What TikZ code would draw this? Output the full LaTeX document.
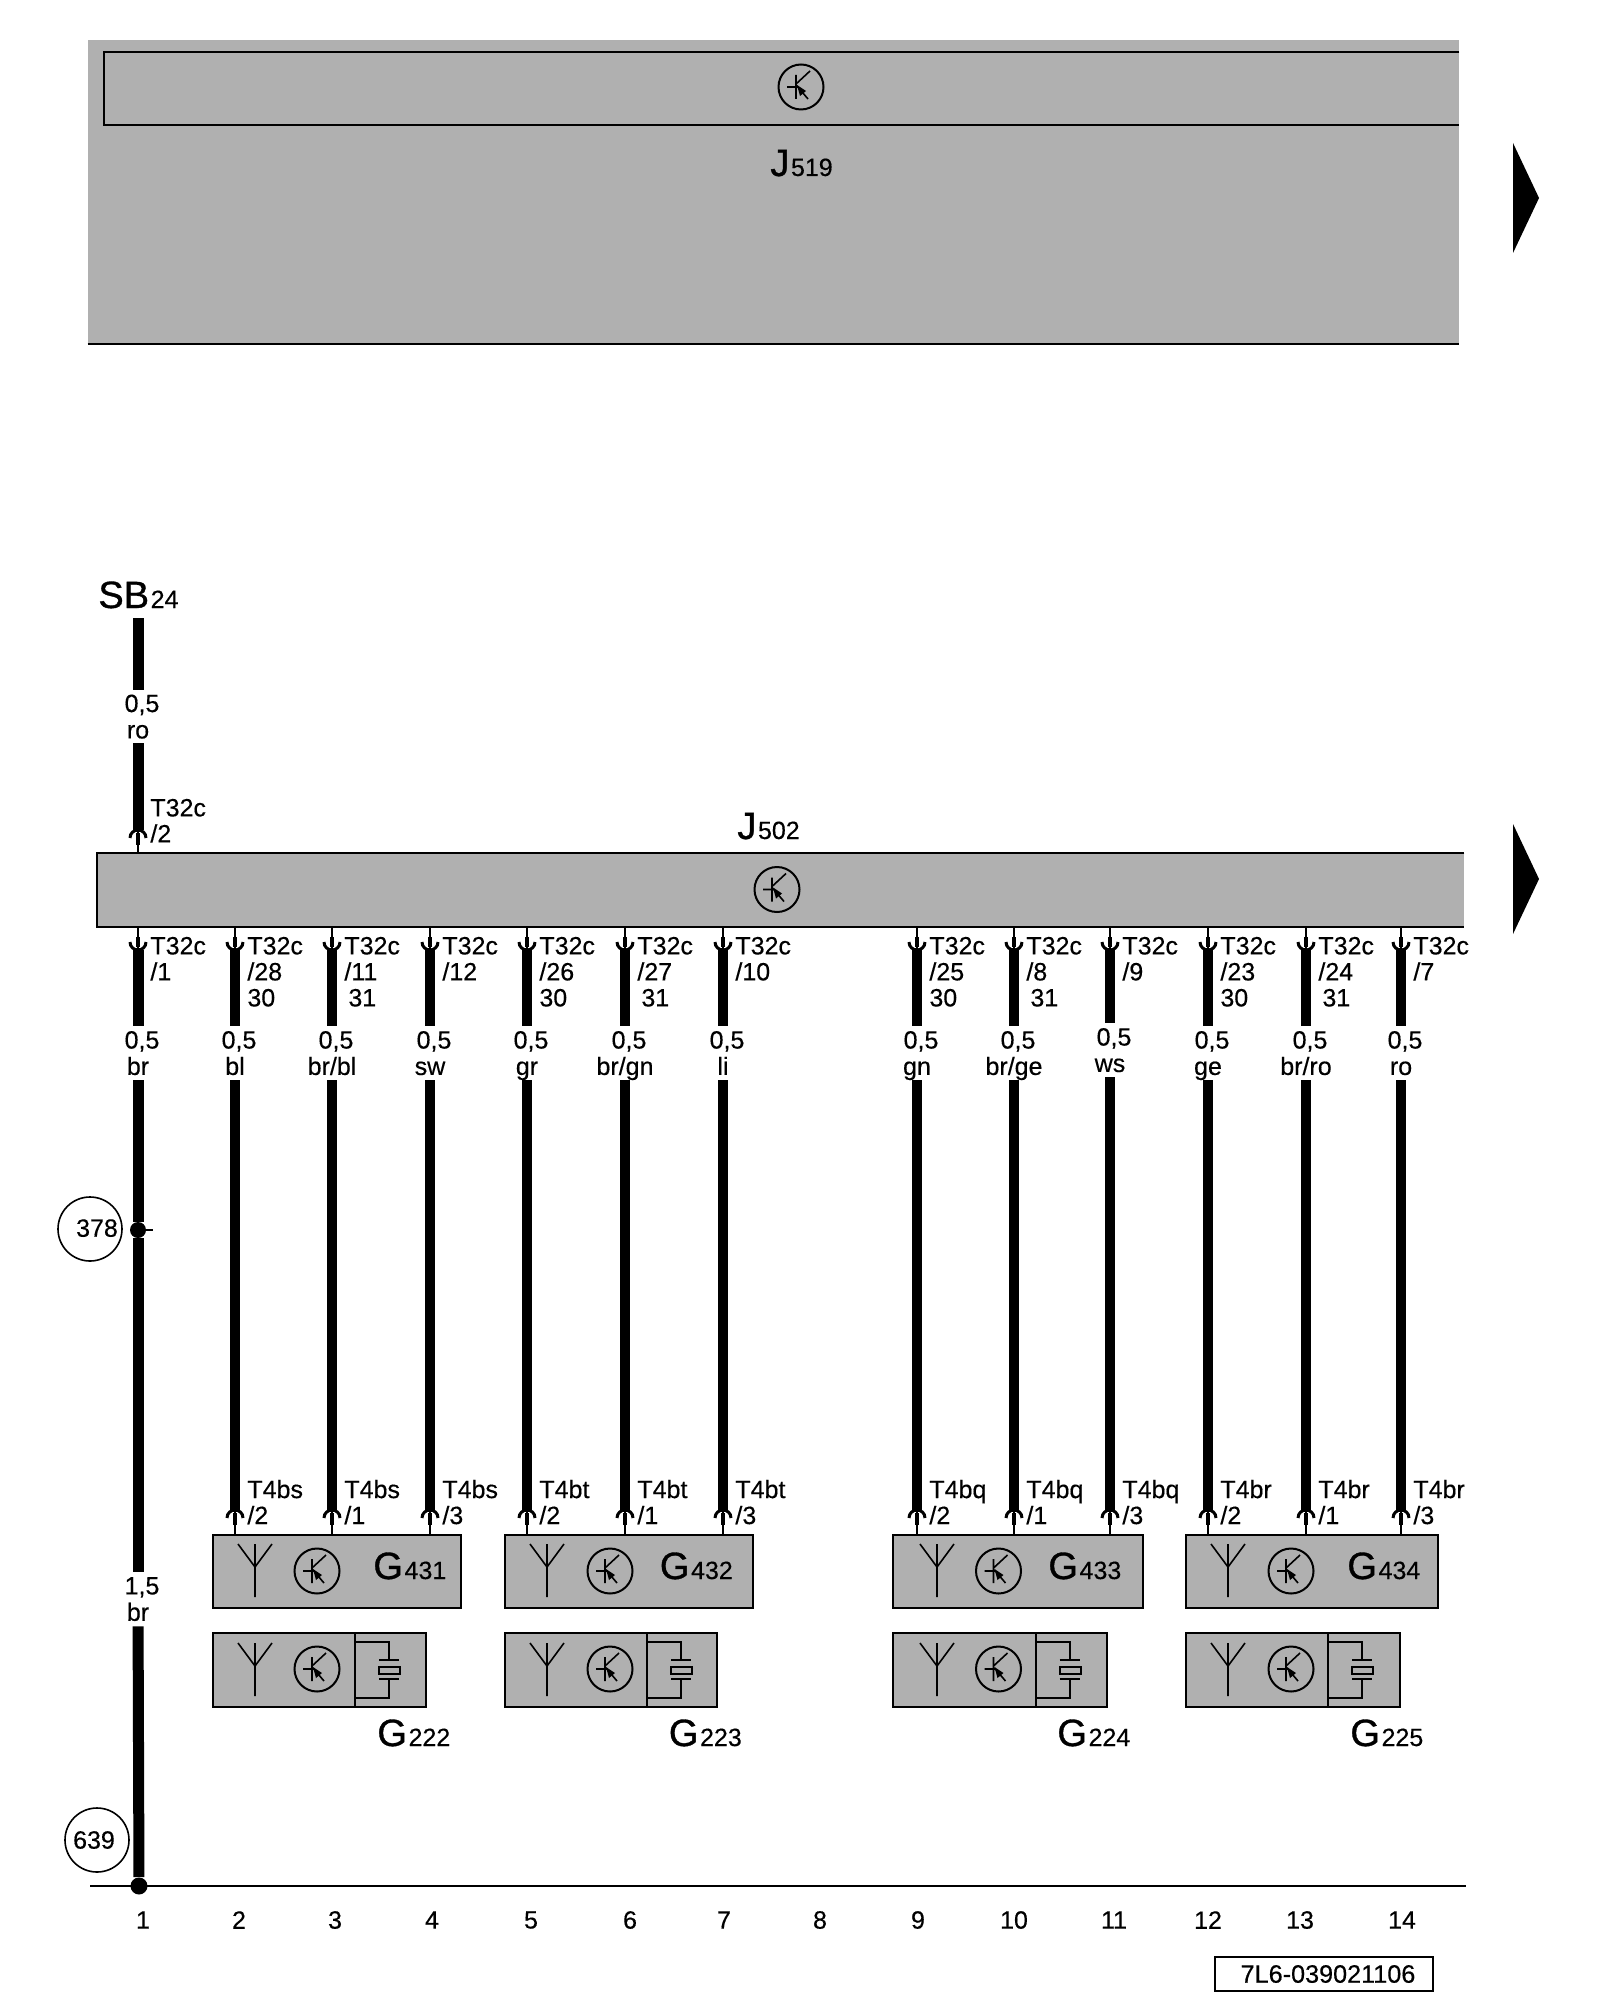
\documentclass[tikz,border=0pt]{standalone}
\usepackage{fontspec}
\setmainfont{Liberation Sans}[FakeBold=0.4]
\newfontfamily\heavyfont{Liberation Sans}[FakeBold=0.9]
\usetikzlibrary{positioning}

\definecolor{boxgrey}{HTML}{B0B0B0}
\newcommand{\gauge}[2]{\hspace*{4pt}#1\\\raisebox{0pt}[\height][0pt]{#2}}
\newcommand{\bigname}[2]{{\heavyfont\fontsize{19}{19}\selectfont #1}\kern.8pt{\fontsize{12.5}{12.5}\selectfont #2}}

\tikzset{
  transistor/.pic={
    \draw[line width=1pt] (0,0) circle[radius=11.25pt];
    \draw[line width=.8pt] (-14,0) -- (-3,0) (-5,-12) -- (-5,12) (-5,-3) -- (9,-16) (-4,-1) -- (7,12);
    \fill (-4,-2) -- (5,4) -- (-1,9) -- cycle;
  },
  antenna/.pic={
    \draw[line width=.8pt] (0,0) -- (0,53) (-17,0) -- (0,23) -- (17,0);
  },
  crystal/.pic={
    \draw[line width=1pt] (0,-9) -- (0,65) (0,0) -- (34,0) -- (34,18) (24,18) -- (44,18);
    \draw[line width=1pt] (24,25) rectangle (45,32) (24,37) -- (44,37) (34,37) -- (34,56) -- (0,56);
  },
  pinup/.pic={
    \draw[line width=1.5pt] (-8,8) .. controls (-8,3) and (-4,0) .. (0,0) .. controls (4,0) and (8,3) .. (8,8);
    \draw[line width=2pt] (0,3) -- (0,15);
  },
  pindown/.pic={
    \draw[line width=1.5pt] (-8,-8) .. controls (-8,-3) and (-4,0) .. (0,0) .. controls (4,0) and (8,-3) .. (8,-8);
    \draw[line width=2pt] (0,-3) -- (0,-13);
  },
  pagemark/.pic={
    \fill (0,0) -- (26,55) -- (0,110) -- cycle;
  }
}

\begin{document}
\begin{tikzpicture}[x=.5pt, y=-.5pt]
    \tikzstyle{wire}=[line width=5pt]
    \tikzstyle{mainwire}=[line width=5.5pt]
    \tikzstyle{stem}=[line width=.8pt]
    \tikzstyle{hair}=[line width=1pt]
    \tikzstyle{gaugelbl}=[font=\fontsize{12.5}{13.2}\selectfont,align=center,inner sep=0pt,minimum height=27pt]
    \tikzstyle{pinlbl}=[font=\fontsize{12.5}{13}\selectfont,align=left,inner sep=0pt]
    \tikzstyle{colnum}=[font=\fontsize{12.5}{14}\selectfont,inner sep=0pt]
    \tikzstyle{panel}=[fill=boxgrey,inner sep=0pt]
    \tikzstyle{module}=[draw,line width=1pt,fill=boxgrey,inner sep=0pt]
    \tikzstyle{namelbl}=[anchor=base west,inner sep=0pt]
    \tikzstyle{ref}=[draw,circle,line width=.8pt,minimum size=32pt,inner sep=0pt,font=\fontsize{12.5}{14}\selectfont]
    \tikzstyle{dot}=[circle,fill=black,inner sep=0pt,minimum size=8pt]

    \useasboundingbox (0,0) rectangle (1600,2000);

    % J519
    \node[panel,minimum width=685.5pt,minimum height=152pt] (j519) at (773.5,192) {};
    \node[inner sep=0pt,minimum width=677.5pt,minimum height=36.5pt] (j519i) at (781.5,88.5) {};
    \draw[hair] (j519i.north east) -- (j519i.north west) -- (j519i.south west) -- (j519i.south east);
    \draw[hair] (j519.south west) -- (j519.south east);
    \pic at (801,87) {transistor};
    \node[namelbl] (j519n) at (770,176) {\bigname{J}{519}};
    \pic at (1513,143) {pagemark};

    % J502
    \node[panel,minimum width=683.5pt,minimum height=37pt] (j502) at (780.5,890) {};
    \draw[hair] (j502.north east) -- (j502.north west) -- (j502.south west) -- (j502.south east);
    \pic at (777,889.5) {transistor};
    \node[namelbl] (j502n) at (737,839) {\bigname{J}{502}};
    \pic at (1513,824) {pagemark};

    % modules
    \node[module,minimum width=124pt,minimum height=36.5pt] (g431) at (337,1571.5) {};
    \node[module,minimum width=124pt,minimum height=36.5pt] (g432) at (629,1571.5) {};
    \node[module,minimum width=125pt,minimum height=36.5pt] (g433) at (1018,1571.5) {};
    \node[module,minimum width=126pt,minimum height=36.5pt] (g434) at (1312,1571.5) {};
    \node[module,minimum width=106.5pt,minimum height=37pt] (g222) at (319.5,1670) {};
    \node[module,minimum width=106pt,minimum height=37pt] (g223) at (611,1670) {};
    \node[module,minimum width=107pt,minimum height=37pt] (g224) at (1000,1670) {};
    \node[module,minimum width=107pt,minimum height=37pt] (g225) at (1293,1670) {};

    \pic at (255,1544) {antenna};  \pic at (317,1571) {transistor};
    \pic at (547,1544) {antenna};  \pic at (610,1571) {transistor};
    \pic at (937,1544) {antenna};  \pic at (998.5,1571) {transistor};
    \pic at (1228,1544) {antenna}; \pic at (1291,1571) {transistor};
    \pic at (255,1643) {antenna};  \pic at (317,1669) {transistor}; \pic at (355,1642) {crystal};
    \pic at (547,1643) {antenna};  \pic at (610,1669) {transistor}; \pic at (647,1642) {crystal};
    \pic at (937,1643) {antenna};  \pic at (998.5,1669) {transistor}; \pic at (1035.5,1642) {crystal};
    \pic at (1228,1643) {antenna}; \pic at (1291,1669) {transistor}; \pic at (1328,1642) {crystal};

    \node[namelbl] (g431n) at (373,1579) {\bigname{G}{431}};
    \node[namelbl] (g432n) at (659.5,1579) {\bigname{G}{432}};
    \node[namelbl] (g433n) at (1048,1579) {\bigname{G}{433}};
    \node[namelbl] (g434n) at (1347,1579) {\bigname{G}{434}};
    \node[namelbl] (g222n) at (377,1746) {\bigname{G}{222}};
    \node[namelbl] (g223n) at (668.5,1746) {\bigname{G}{223}};
    \node[namelbl] (g224n) at (1057,1746) {\bigname{G}{224}};
    \node[namelbl] (g225n) at (1350,1746) {\bigname{G}{225}};

    % feed from SB24
    \node[namelbl] (sb24) at (98,608) {\bigname{SB}{24}};
    \coordinate (s0) at (138,618);
    \coordinate (s1) at (138,830);
    \node[gaugelbl,minimum height=26.5pt] (s) at (138,716.5) {\gauge{0,5}{ro}};
    \pic at (s1) {pinup};
    \path (s0) edge[mainwire] (s) (s) edge[mainwire] (s1) (s1) edge[stem] (j502.north -| s1);
    \node[pinlbl] (s1t) [below right=-15.75pt and 6pt of s1] {T32c\\/2};

    % column 1, down to ground
    \coordinate (a1) at (138,950);
    \node[gaugelbl] (w1) at (138,1053) {\gauge{0,5}{br}};
    \node[dot] (d378) at (138,1230) {};
    \node[gaugelbl] (w15) at (138,1599) {\gauge{1,5}{br}};
    \node[dot,minimum size=8.5pt] (d639) at (139,1886) {};
    \node[ref] (c378) at (90,1229) {\hspace*{7pt}\raisebox{1pt}{378}};
    \node[ref] (c639) at (97,1840) {639\hspace*{3pt}};
    \coordinate (t378) at (153,1230);
    \pic at (a1) {pindown};
    \path (j502.south -| a1) edge[stem] (a1) (a1) edge[mainwire] (w1) (w1) edge[mainwire] (d378) (d378) edge[mainwire] (w15) (w15) edge[mainwire] (d639);
    \path (d378) edge[stem] (t378);
    \node[pinlbl] (a1t) [below right=-6.75pt and 6pt of a1] {T32c\\/1};

    % column 2
    \coordinate (a2) at (235,950); \coordinate (z2) at (235,1510);
    \node[gaugelbl] (w2) at (235,1053) {\gauge{0,5}{bl}};
    \pic at (a2) {pindown}; \pic at (z2) {pinup};
    \path (j502.south -| a2) edge[stem] (a2) (a2) edge[wire] (w2) (w2) edge[wire] (z2) (z2) edge[stem] (g431.north -| z2);
    \node[pinlbl] (a2t) [below right=-6.75pt and 6pt of a2] {T32c\\/28\\30};
    \node[pinlbl] (z2t) [below right=-15.25pt and 6pt of z2] {T4bs\\/2};

    % column 3
    \coordinate (a3) at (332,950); \coordinate (z3) at (332,1510);
    \node[gaugelbl] (w3) at (332,1053) {\gauge{0,5}{br/bl}};
    \pic at (a3) {pindown}; \pic at (z3) {pinup};
    \path (j502.south -| a3) edge[stem] (a3) (a3) edge[wire] (w3) (w3) edge[wire] (z3) (z3) edge[stem] (g431.north -| z3);
    \node[pinlbl] (a3t) [below right=-6.75pt and 6pt of a3] {T32c\\/11\\\hspace*{2pt}31};
    \node[pinlbl] (z3t) [below right=-15.25pt and 6pt of z3] {T4bs\\/1};

    % column 4
    \coordinate (a4) at (430,950); \coordinate (z4) at (430,1510);
    \node[gaugelbl] (w4) at (430,1053) {\gauge{0,5}{sw}};
    \pic at (a4) {pindown}; \pic at (z4) {pinup};
    \path (j502.south -| a4) edge[stem] (a4) (a4) edge[wire] (w4) (w4) edge[wire] (z4) (z4) edge[stem] (g431.north -| z4);
    \node[pinlbl] (a4t) [below right=-6.75pt and 6pt of a4] {T32c\\/12};
    \node[pinlbl] (z4t) [below right=-15.25pt and 6pt of z4] {T4bs\\/3};

    % column 5
    \coordinate (a5) at (527,950); \coordinate (z5) at (527,1510);
    \node[gaugelbl] (w5) at (527,1053) {\gauge{0,5}{gr}};
    \pic at (a5) {pindown}; \pic at (z5) {pinup};
    \path (j502.south -| a5) edge[stem] (a5) (a5) edge[wire] (w5) (w5) edge[wire] (z5) (z5) edge[stem] (g432.north -| z5);
    \node[pinlbl] (a5t) [below right=-6.75pt and 6pt of a5] {T32c\\/26\\30};
    \node[pinlbl] (z5t) [below right=-15.25pt and 6pt of z5] {T4bt\\/2};

    % column 6
    \coordinate (a6) at (625,950); \coordinate (z6) at (625,1510);
    \node[gaugelbl] (w6) at (625,1053) {\gauge{0,5}{br/gn}};
    \pic at (a6) {pindown}; \pic at (z6) {pinup};
    \path (j502.south -| a6) edge[stem] (a6) (a6) edge[wire] (w6) (w6) edge[wire] (z6) (z6) edge[stem] (g432.north -| z6);
    \node[pinlbl] (a6t) [below right=-6.75pt and 6pt of a6] {T32c\\/27\\\hspace*{2pt}31};
    \node[pinlbl] (z6t) [below right=-15.25pt and 6pt of z6] {T4bt\\/1};

    % column 7
    \coordinate (a7) at (723,950); \coordinate (z7) at (723,1510);
    \node[gaugelbl] (w7) at (723,1053) {\gauge{0,5}{li}};
    \pic at (a7) {pindown}; \pic at (z7) {pinup};
    \path (j502.south -| a7) edge[stem] (a7) (a7) edge[wire] (w7) (w7) edge[wire] (z7) (z7) edge[stem] (g432.north -| z7);
    \node[pinlbl] (a7t) [below right=-6.75pt and 6pt of a7] {T32c\\/10};
    \node[pinlbl] (z7t) [below right=-15.25pt and 6pt of z7] {T4bt\\/3};

    % column 9
    \coordinate (a9) at (917,950); \coordinate (z9) at (917,1510);
    \node[gaugelbl] (w9) at (917,1053) {\gauge{0,5}{gn}};
    \pic at (a9) {pindown}; \pic at (z9) {pinup};
    \path (j502.south -| a9) edge[stem] (a9) (a9) edge[wire] (w9) (w9) edge[wire] (z9) (z9) edge[stem] (g433.north -| z9);
    \node[pinlbl] (a9t) [below right=-6.75pt and 6pt of a9] {T32c\\/25\\30};
    \node[pinlbl] (z9t) [below right=-15.25pt and 6pt of z9] {T4bq\\/2};

    % column 10
    \coordinate (a10) at (1014,950); \coordinate (z10) at (1014,1510);
    \node[gaugelbl] (w10) at (1014,1053) {\gauge{0,5}{br/ge}};
    \pic at (a10) {pindown}; \pic at (z10) {pinup};
    \path (j502.south -| a10) edge[stem] (a10) (a10) edge[wire] (w10) (w10) edge[wire] (z10) (z10) edge[stem] (g433.north -| z10);
    \node[pinlbl] (a10t) [below right=-6.75pt and 6pt of a10] {T32c\\/8\\\hspace*{2pt}31};
    \node[pinlbl] (z10t) [below right=-15.25pt and 6pt of z10] {T4bq\\/1};

    % column 11
    \coordinate (a11) at (1110,950); \coordinate (z11) at (1110,1510);
    \node[gaugelbl] (w11) at (1110,1050) {\gauge{0,5}{ws}};
    \pic at (a11) {pindown}; \pic at (z11) {pinup};
    \path (j502.south -| a11) edge[stem] (a11) (a11) edge[wire] (w11) (w11) edge[wire] (z11) (z11) edge[stem] (g433.north -| z11);
    \node[pinlbl] (a11t) [below right=-6.75pt and 6pt of a11] {T32c\\/9};
    \node[pinlbl] (z11t) [below right=-15.25pt and 6pt of z11] {T4bq\\/3};

    % column 12
    \coordinate (a12) at (1208,950); \coordinate (z12) at (1208,1510);
    \node[gaugelbl] (w12) at (1208,1053) {\gauge{0,5}{ge}};
    \pic at (a12) {pindown}; \pic at (z12) {pinup};
    \path (j502.south -| a12) edge[stem] (a12) (a12) edge[wire] (w12) (w12) edge[wire] (z12) (z12) edge[stem] (g434.north -| z12);
    \node[pinlbl] (a12t) [below right=-6.75pt and 6pt of a12] {T32c\\/23\\30};
    \node[pinlbl] (z12t) [below right=-15.25pt and 6pt of z12] {T4br\\/2};

    % column 13
    \coordinate (a13) at (1306,950); \coordinate (z13) at (1306,1510);
    \node[gaugelbl] (w13) at (1306,1053) {\gauge{0,5}{br/ro}};
    \pic at (a13) {pindown}; \pic at (z13) {pinup};
    \path (j502.south -| a13) edge[stem] (a13) (a13) edge[wire] (w13) (w13) edge[wire] (z13) (z13) edge[stem] (g434.north -| z13);
    \node[pinlbl] (a13t) [below right=-6.75pt and 6pt of a13] {T32c\\/24\\\hspace*{2pt}31};
    \node[pinlbl] (z13t) [below right=-15.25pt and 6pt of z13] {T4br\\/1};

    % column 14
    \coordinate (a14) at (1401,950); \coordinate (z14) at (1401,1510);
    \node[gaugelbl] (w14) at (1401,1053) {\gauge{0,5}{ro}};
    \pic at (a14) {pindown}; \pic at (z14) {pinup};
    \path (j502.south -| a14) edge[stem] (a14) (a14) edge[wire] (w14) (w14) edge[wire] (z14) (z14) edge[stem] (g434.north -| z14);
    \node[pinlbl] (a14t) [below right=-6.75pt and 6pt of a14] {T32c\\/7};
    \node[pinlbl] (z14t) [below right=-15.25pt and 6pt of z14] {T4br\\/3};
    \fill[white] (1469,930) rectangle (1500,965); % sheet edge cuts the last label

    % ground bar and column numbers
    \coordinate (g0) at (90,1886); \coordinate (g1) at (1466,1886);
    \draw[hair] (g0) -- (g1);
    \node[colnum] (n1) at (143,1920) {1};     \node[colnum] (n2) at (239,1920) {2};
    \node[colnum] (n3) at (335,1920) {3};     \node[colnum] (n4) at (432,1920) {4};
    \node[colnum] (n5) at (531,1920) {5};     \node[colnum] (n6) at (630,1920) {6};
    \node[colnum] (n7) at (724,1920) {7};     \node[colnum] (n8) at (820,1920) {8};
    \node[colnum] (n9) at (918,1920) {9};     \node[colnum] (n10) at (1014,1920) {10};
    \node[colnum] (n11) at (1114,1920) {11};  \node[colnum] (n12) at (1208,1920) {12};
    \node[colnum] (n13) at (1300,1920) {13};  \node[colnum] (n14) at (1402,1920) {14};

    \node[draw,line width=1pt,minimum width=109pt,minimum height=17pt,inner sep=0pt,font=\fontsize{12.6}{14}\selectfont] (part) at (1324,1974) {\hspace*{4pt}7L6-039021106};
\end{tikzpicture}
\end{document}
